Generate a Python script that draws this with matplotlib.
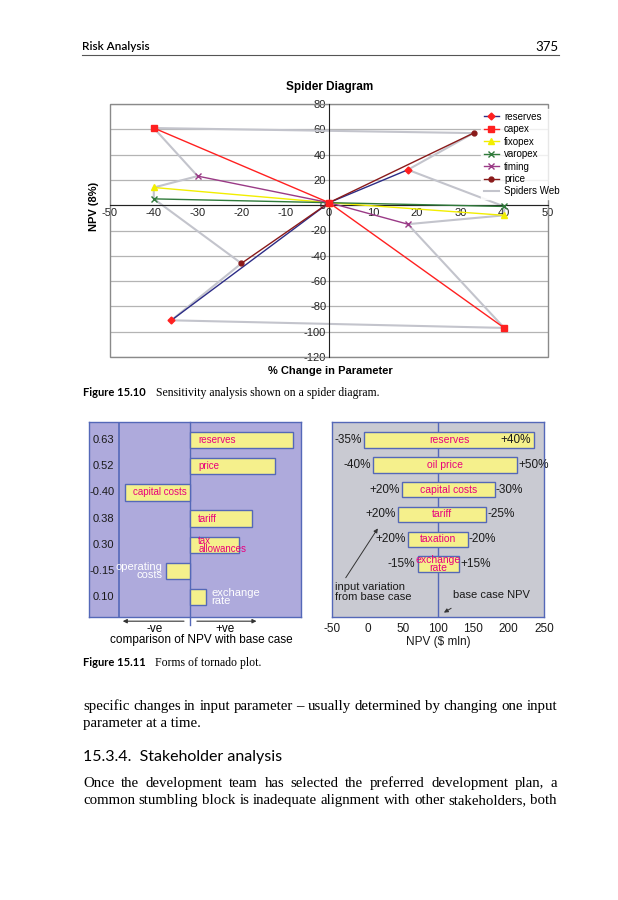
import matplotlib
matplotlib.use("Agg")
import matplotlib.pyplot as plt
from matplotlib.patches import Rectangle

# ---- spider diagram data (% change in parameter vs NPV) ----
reserves_x = [-36, 0, 18]
reserves_y = [-91, 2, 28]
capex_x = [-40, 0, 40]
capex_y = [61, 2, -97]
fixopex_x = [-40, 0, 40]
fixopex_y = [14, 2, -8]
varopex_x = [-40, 0, 40]
varopex_y = [5, 2, -1]
timing_x = [-30, 0, 18]
timing_y = [23, 2, -15]
price_x = [-20, 0, 33]
price_y = [-46, 2, 57]
web_x = [-40, -30, -40, -40, -20, -36, 40, 18, 40, 40, 18, 33, -40]
web_y = [61, 23, 14, 5, -46, -91, -97, -15, -8, -1, 28, 57, 61]

# ---- tornado 1 (NPV change relative to base case) ----
t1_names = ["reserves", "price", "capital costs", "tariff", "tax\nallowances",
            "operating\ncosts", "exchange\nrate"]
t1_values = [0.63, 0.52, -0.40, 0.38, 0.30, -0.15, 0.10]

# ---- tornado 2 (NPV range, $ mln) ----
t2_names = ["reserves", "oil price", "capital costs", "tariff", "taxation", "exchange\nrate"]
t2_low = [-5, 8.5, 49.5, 43, 58, 71]
t2_high = [236, 212, 180, 168, 142, 130]
t2_low_txt = ["-35%", "-40%", "+20%", "+20%", "+20%", "-15%"]
t2_high_txt = ["+40%", "+50%", "-30%", "-25%", "-20%", "+15%"]
base_npv = 100

W, H = 618, 900
fig = plt.figure(figsize=(W / 100, H / 100), dpi=100)
plt.rcParams["font.family"] = ["Liberation Sans", "DejaVu Sans"]
plt.rcParams["axes.unicode_minus"] = False


def fx(x):
    return x / W


def fy(y):
    return 1 - y / H


def add_ax(x0, y0, x1, y1):
    return fig.add_axes([fx(x0), fy(y1), (x1 - x0) / W, (y1 - y0) / H])


# %% spider diagram
ax = add_ax(110, 104, 548, 357)
ax.set_xlim(-50, 50)
ax.set_ylim(-120, 80)
ax.plot(web_x, web_y, color="#c3c4cc", lw=1.5, zorder=2, label="Spiders Web")
series = [
    ("reserves", reserves_x, reserves_y, "#2c2c86", "D", "#ff2020", 3.5),
    ("capex", capex_x, capex_y, "#ff2020", "s", "#ff2020", 5),
    ("fixopex", fixopex_x, fixopex_y, "#f2ee00", "^", "#f2ee00", 4),
    ("varopex", varopex_x, varopex_y, "#2f7a3a", "x", "#2f7a3a", 4),
    ("timing", timing_x, timing_y, "#9a3a86", "x", "#9a3a86", 4),
    ("price", price_x, price_y, "#8a1a1a", "o", "#8a1a1a", 3.5),
]
handles = []
for i, (name, xs, ys, col, mk, mcol, ms) in enumerate(series):
    z = 6 if name == "capex" else 3 + i * 0.1
    h, = ax.plot(xs, ys, color=col, lw=1, marker=mk, ms=ms, mfc=mcol, mec=mcol,
                 mew=1, zorder=z, label=name)
    handles.append(h)
handles.append(ax.lines[0])

ax.spines["left"].set_position(("data", 0))
ax.spines["bottom"].set_position(("data", 0))
for s in ["top", "right"]:
    ax.spines[s].set_visible(False)
ax.spines["left"].set_color("#222222")
ax.spines["bottom"].set_color("#222222")
ax.add_patch(Rectangle((0, 0), 1, 1, transform=ax.transAxes, fill=False,
                       edgecolor="#8a8a8a", lw=1, zorder=1, clip_on=False))
ax.set_xticks(range(-50, 51, 10))
ax.set_yticks(range(-120, 81, 20))
ax.tick_params(labelsize=8, length=0, pad=2, colors="#222222")
ax.yaxis.grid(True, color="#b4b4b4", lw=0.9, zorder=0)
ax.set_axisbelow(True)
leg = ax.legend(handles=handles, loc="upper left", bbox_to_anchor=(0.835, 1.0),
                fontsize=7, handlelength=1.6, labelspacing=0.25, borderpad=0.3,
                handletextpad=0.5, frameon=True, fancybox=False)
leg.get_frame().set_facecolor("white")
leg.get_frame().set_edgecolor("white")
fig.text(fx(330), fy(87), "Spider Diagram", ha="center", va="center",
         fontsize=8.5, fontweight="bold")
fig.text(fx(330), fy(371), "% Change in Parameter", ha="center", va="center",
         fontsize=8, fontweight="bold")
fig.text(fx(94), fy(206), "NPV (8%)", ha="center", va="center", rotation=90,
         fontsize=8, fontweight="bold")

# %% tornado 1
yellow = "#f5f08c"
edge = "#5468b8"
magenta = "#e8007d"

ax1 = add_ax(89, 422, 301, 617)
ax1.set_facecolor("#aeaadc")
ax1.set_xlim(-0.62, 0.681)
ax1.set_ylim(6.76, -0.69)
rows1 = list(range(len(t1_values)))
ax1.barh(rows1, t1_values, height=0.62, color=yellow, edgecolor=edge, lw=1, zorder=3)
ax1.axvline(-0.436, color=edge, lw=1.2, zorder=2)
ax1.plot([0, 0], [-0.69, 7.07], color=edge, lw=1, zorder=2, clip_on=False)
for r, v, name in zip(rows1, t1_values, t1_names):
    ax1.text(-0.465, r, f"{v:.2f}", ha="right", va="center", fontsize=8, color="#1a1a1a")
    if abs(v) >= 0.3:
        x0 = min(v, 0) + 0.05
        ax1.text(x0, r, name, ha="left", va="center", fontsize=7, color=magenta,
                 linespacing=0.75, zorder=4)
    elif v < 0:
        ax1.text(v - 0.02, r, name, ha="right", va="center", fontsize=8,
                 color="white", linespacing=0.8, zorder=4)
    else:
        ax1.text(v + 0.03, r, name, ha="left", va="center", fontsize=8,
                 color="white", linespacing=0.8, zorder=4)
ax1.set_xticks([])
ax1.set_yticks([])
for s in ax1.spines.values():
    s.set_color(edge)
    s.set_linewidth(1)
arrow_kw = dict(arrowstyle="-|>", color="#333333", lw=0.8, mutation_scale=6)
ax1.annotate("", xy=(-0.43, 6.92), xytext=(-0.02, 6.92), arrowprops=arrow_kw,
             annotation_clip=False)
ax1.annotate("", xy=(0.425, 6.92), xytext=(0.025, 6.92), arrowprops=arrow_kw,
             annotation_clip=False)
ax1.text(-0.22, 7.2, "-ve", ha="center", va="center", fontsize=8.5, clip_on=False)
ax1.text(0.215, 7.2, "+ve", ha="center", va="center", fontsize=8.5, clip_on=False)
ax1.text(0.067, 7.65, "comparison of NPV with base case", ha="center", va="center",
         fontsize=8.5, clip_on=False)

# %% tornado 2
ax2 = add_ax(332, 422, 544, 617)
ax2.set_facecolor("#c9cad2")
ax2.set_xlim(-50, 250)
ax2.set_ylim(7.14, -0.73)
rows2 = list(range(len(t2_names)))
widths = [h - l for l, h in zip(t2_low, t2_high)]
ax2.barh(rows2, widths, left=t2_low, height=0.62, color=yellow, edgecolor=edge,
         lw=1, zorder=3)
ax2.axvline(base_npv, color=edge, lw=1, zorder=2)
for r, name, lo, hi, lt, ht in zip(rows2, t2_names, t2_low, t2_high, t2_low_txt, t2_high_txt):
    ax2.text((lo + hi) / 2, r, name, ha="center", va="center", fontsize=7.5,
             color=magenta, linespacing=0.75, zorder=4)
    ax2.text(lo - 3, r, lt, ha="right", va="center", fontsize=8.5, color="#1a1a1a", zorder=4)
    if hi > 225:
        ax2.text(hi - 5, r, ht, ha="right", va="center", fontsize=8.5, color="#1a1a1a", zorder=4)
    else:
        ax2.text(hi + 1.5, r, ht, ha="left", va="center", fontsize=8.5, color="#1a1a1a", zorder=4)
ax2.set_yticks([])
ax2.set_xticks(range(-50, 251, 50))
ax2.tick_params(axis="x", length=0, pad=4, labelsize=8.5, colors="#1a1a1a")
ax2.set_xlabel(r"NPV (\$ mln)", fontsize=8.5, labelpad=1, color="#1a1a1a")
for s in ax2.spines.values():
    s.set_color(edge)
    s.set_linewidth(1)
arrow2 = dict(arrowstyle="-|>", color="#333333", lw=0.7, mutation_scale=6)
ax2.annotate("", xy=(17, 3.47), xytext=(-32.7, 5.65), arrowprops=arrow2)
ax2.text(-45.5, 6.13, "input variation\nfrom base case", ha="left", va="center",
         fontsize=8, linespacing=0.95, color="#1a1a1a")
ax2.annotate("", xy=(105, 7.02), xytext=(122, 6.73), arrowprops=arrow2,
             annotation_clip=False)
ax2.text(121, 6.25, "base case NPV", ha="left", va="center", fontsize=8, color="#1a1a1a")

# %% page text
renderer = fig.canvas.get_renderer()
serif = ["Liberation Serif", "DejaVu Serif"]
sans = ["Lato", "DejaVu Sans"]
body_size = 10.7


def justify(line, y, x0=83, x1=557, size=body_size):
    # y is the text's visual middle; place words on a common baseline
    words = line.split(" ")
    texts = [fig.text(0, fy(y + 4), w, fontsize=size, family=serif, va="baseline")
             for w in words]
    widths = [t.get_window_extent(renderer).width for t in texts]
    gap = (x1 - x0 - sum(widths)) / (len(words) - 1)
    x = x0
    for t, w in zip(texts, widths):
        t.set_x(fx(x))
        x += w + gap


fig.text(fx(82), fy(47), "Risk Analysis", fontsize=8.5, family=sans,
         fontweight="semibold", va="center")
fig.text(fx(559), fy(47), "375", fontsize=9.5, family=sans, ha="right", va="center")
fig.add_artist(plt.Line2D([fx(82), fx(559)], [fy(55), fy(55)], color="#555555", lw=0.8))

fig.text(fx(83), fy(393), "Figure 15.10", fontsize=8, family=sans, fontweight="bold",
         va="center")
fig.text(fx(156), fy(393), "Sensitivity analysis shown on a spider diagram.",
         fontsize=8.5, family=serif, va="center")
fig.text(fx(83), fy(663), "Figure 15.11", fontsize=8, family=sans, fontweight="bold",
         va="center")
fig.text(fx(155), fy(663), "Forms of tornado plot.", fontsize=8.5, family=serif,
         va="center")

justify("specific changes in input parameter \u2013 usually determined by changing one input", 706)
fig.text(fx(83), fy(727), "parameter at a time.", fontsize=body_size, family=serif,
         va="baseline")
fig.text(fx(83), fy(757), "15.3.4.  Stakeholder analysis", fontsize=11.5, family=sans,
         va="center")
justify("Once the development team has selected the preferred development plan, a", 783)
justify("common stumbling block is inadequate alignment with other stakeholders, both", 800)

fig.savefig("out.png", dpi=100)
